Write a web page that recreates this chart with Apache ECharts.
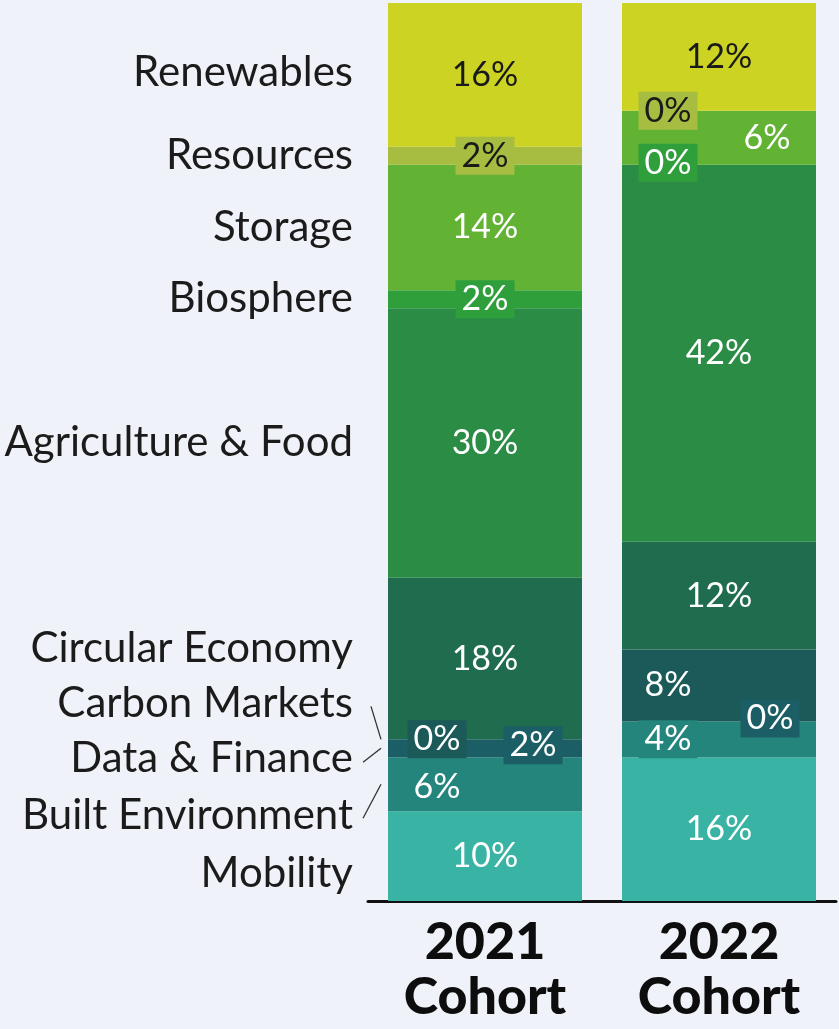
<!DOCTYPE html>
<html>
<head>
<meta charset="utf-8">
<script src="https://cdn.jsdelivr.net/npm/echarts@6/dist/echarts.min.js"></script>
<style>
html, body { margin: 0; padding: 0; background: #eff2f8; }
#chart { width: 839px; height: 1029px; }
</style>
</head>
<body>
<div id="chart"></div>
<script>
var cohorts = ['2021\nCohort', '2022\nCohort'];
// listed top to bottom, as in the left-hand key
var sectors = ['Renewables', 'Resources', 'Storage', 'Biosphere', 'Agriculture & Food',
  'Circular Economy', 'Carbon Markets', 'Data & Finance', 'Built Environment', 'Mobility'];
var share2021 = [16, 2, 14, 2, 30, 18, 0, 2, 6, 10];
var share2022 = [12, 0, 6, 0, 42, 12, 8, 0, 4, 16];

var colors = ['#ccd322', '#a7bd41', '#62b234', '#2f9f3c', '#2a8c45',
  '#1f6d4e', '#1b5a59', '#1c5e65', '#24857d', '#39b3a4'];
var textColors = ['#1a1a1a', '#1a1a1a', '#fff', '#fff', '#fff', '#fff', '#fff', '#fff', '#fff', '#fff'];

// label nudges for the crowded thin segments [dx, dy]
var nudge2021 = [[0, 0], [0, 0], [0, 0], [0, 0], [0, 0], [0, 0], [-48, 0], [48, -3], [-48, 3], [0, 0]];
var nudge2022 = [[0, 0], [-51, 0], [48, 0], [-51, -2], [0, 0], [0, 0], [-51, 0], [51, -3], [-51, 0], [0, 0]];
// where the left-hand names sit relative to their 2021 segment
var keyNudge = [-2, 0, 0, -1, -1, -10, -36, 10, 31, 17];

var chart = echarts.init(document.getElementById('chart'));

function labelFor(i, nudge) {
  return {
    show: true,
    position: 'inside',
    offset: nudge[i],
    formatter: '{c}%',
    fontFamily: 'Lato',
    fontSize: 34,
    color: textColors[i],
    backgroundColor: colors[i],
    padding: [2, 6]
  };
}

var series = [];
// stack from the bottom up
for (var i = sectors.length - 1; i >= 0; i--) {
  series.push({
    name: sectors[i],
    type: 'bar',
    stack: 'all',
    barWidth: 194,
    itemStyle: { color: colors[i] },
    data: [
      { value: share2021[i], label: labelFor(i, nudge2021) },
      { value: share2022[i], label: labelFor(i, nudge2022) }
    ],
    silent: true
  });
}

chart.setOption({
  backgroundColor: '#eff2f8',
  animation: false,
  grid: { left: 368, right: 3, top: 3, bottom: 128 },
  xAxis: {
    type: 'category',
    data: cohorts,
    axisLine: { lineStyle: { color: '#111', width: 3 } },
    axisTick: { show: false },
    axisLabel: {
      margin: 14,
      fontFamily: 'Lato',
      fontWeight: 900,
      fontSize: 52,
      lineHeight: 55,
      color: '#0d0d0d'
    }
  },
  yAxis: { type: 'value', min: 0, max: 100, show: false },
  series: series
});

// left-hand key, aligned to the 2021 bar
var graphics = [];
var cum = 0;
var segY = [];
for (var k = 0; k < sectors.length; k++) {
  var mid = cum + share2021[k] / 2;
  segY.push(chart.convertToPixel({ yAxisIndex: 0 }, 100 - mid));
  cum += share2021[k];
}
var keyY = [];
for (var k = 0; k < sectors.length; k++) {
  keyY.push(segY[k] + keyNudge[k]);
  graphics.push({
    type: 'text',
    x: 353,
    y: keyY[k],
    style: {
      text: sectors[k],
      fontFamily: 'Lato',
      fontSize: 42,
      fill: '#1b1b1b',
      align: 'right',
      verticalAlign: 'middle'
    }
  });
}
// leader lines for the three thin segments
var leaderStart = { 6: [371, 3], 7: [363, 4], 8: [363, 3] };
[6, 7, 8].forEach(function (k) {
  graphics.push({
    type: 'line',
    shape: { x1: leaderStart[k][0], y1: keyY[k] + leaderStart[k][1], x2: 381, y2: segY[k] },
    style: { stroke: '#333', lineWidth: 1.3 }
  });
});
chart.setOption({ graphic: graphics });
</script>
</body>
</html>
